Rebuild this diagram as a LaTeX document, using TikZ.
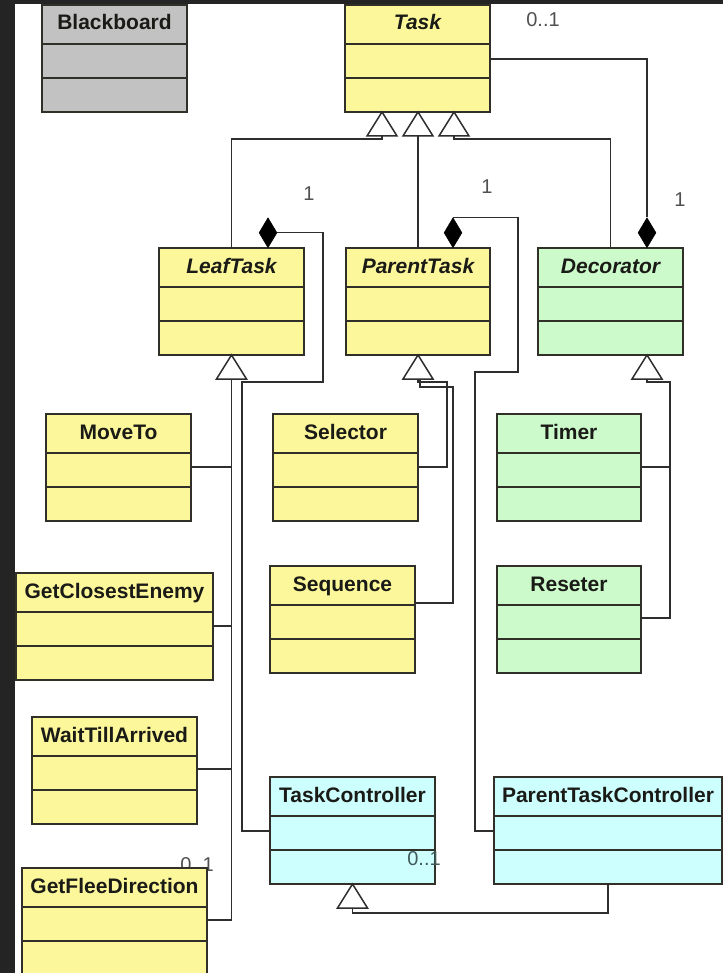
\documentclass[tikz,border=0pt]{standalone}
\usepackage{fontspec}
\setmainfont{Liberation Sans}
\usetikzlibrary{shapes.geometric,calc}

\definecolor{umlyellow}{RGB}{252,247,155}
\definecolor{umlgreen}{RGB}{204,250,202}
\definecolor{umlcyan}{RGB}{206,255,255}
\definecolor{umlgray}{RGB}{194,194,194}
\definecolor{boxline}{RGB}{48,48,40}
\definecolor{connline}{RGB}{46,46,46}
\definecolor{titlecol}{RGB}{26,26,22}
\definecolor{multcol}{RGB}{80,80,80}
\definecolor{framedark}{RGB}{36,36,36}

\newcommand\clsfont{\bfseries\fontsize{21}{24}\selectfont}
\newcommand\absclsfont{\bfseries\itshape\fontsize{21}{24}\selectfont}

\tikzset{
  classbox/.style={draw=boxline, line width=1.8pt, minimum height=107pt,
                   inner sep=0pt, outer sep=0pt},
  compline/.style={draw=boxline, line width=1.8pt},
  titletext/.style={text=titlecol, inner sep=0pt, text height=15pt, text depth=4pt},
  conn/.style={draw=connline, line width=1.5pt},
  gentri/.style={draw=connline, line width=1.5pt, fill=white, line join=miter},
  compdiamond/.style={diamond, fill=black, draw=black, line width=0.5pt,
                      inner sep=0pt, minimum width=18pt, minimum height=30pt},
  mult/.style={text=multcol, inner sep=0pt, font=\fontsize{20}{24}\selectfont}
}

% class box: name, top-left corner, width, fill, title font, title
\newcommand\umlclass[6]{%
  \node[classbox, fill=#4, minimum width=#3pt, anchor=north west] (#1) at (#2) {};
  \draw[compline] ([yshift=-39pt]#1.north west) -- ([yshift=-39pt]#1.north east);
  \draw[compline] ([yshift=-73pt]#1.north west) -- ([yshift=-73pt]#1.north east);
  \node[titletext, font=#5] (#1-title) at ([yshift=-19.5pt]#1.north) {#6};
}

% open generalization triangle hanging below a point; base centre is named
\newcommand\gentriangle[2]{%
  \draw[gentri] (#2) -- ++(-15,24) -- ++(30,0) -- cycle;
  \coordinate (#1) at ($(#2)+(0,24)$);
}

\begin{document}
\begin{tikzpicture}[x=1pt,y=-1pt]
\useasboundingbox (0,0) rectangle (723,973);
\clip (0,0) rectangle (723,973);

% page frame
\fill[white] (0,0) rectangle (723,973);
\fill[framedark] (0,0) rectangle (15,973);
\fill[framedark] (0,0) rectangle (723,4);

% multiplicity partly hidden behind GetFleeDirection
\node[mult] (mFlee) at (197,865) {0..1};

% classes
\umlclass{Blackboard}{42,5}{145}{umlgray}{\clsfont}{Blackboard}
\umlclass{Task}{345,5}{145}{umlyellow}{\absclsfont}{Task}
\umlclass{LeafTask}{159,248}{145}{umlyellow}{\absclsfont}{LeafTask}
\umlclass{ParentTask}{346,248}{144}{umlyellow}{\absclsfont}{ParentTask}
\umlclass{Decorator}{538,248}{145}{umlgreen}{\absclsfont}{Decorator}
\umlclass{MoveTo}{46,414}{145}{umlyellow}{\clsfont}{MoveTo}
\umlclass{Selector}{273,414}{145}{umlyellow}{\clsfont}{Selector}
\umlclass{Timer}{497,414}{144}{umlgreen}{\clsfont}{Timer}
\umlclass{GetClosestEnemy}{16,573}{197}{umlyellow}{\clsfont}{GetClosestEnemy}
\umlclass{Sequence}{270,566}{145}{umlyellow}{\clsfont}{Sequence}
\umlclass{Reseter}{497,566}{144}{umlgreen}{\clsfont}{Reseter}
\umlclass{WaitTillArrived}{32,717}{165}{umlyellow}{\clsfont}{WaitTillArrived}
\umlclass{TaskController}{270,777}{165}{umlcyan}{\clsfont}{TaskController}
\umlclass{ParentTaskController}{494,777}{228}{umlcyan}{\clsfont}{ParentTaskController}
\umlclass{GetFleeDirection}{22,868}{185}{umlyellow}{\clsfont}{GetFleeDirection}

% generalization triangles
\gentriangle{gT1}{[xshift=-35.5pt]Task.south}
\gentriangle{gT2}{[xshift=0.5pt]Task.south}
\gentriangle{gT3}{[xshift=36.5pt]Task.south}
\gentriangle{gLeaf}{LeafTask.south}
\gentriangle{gParent}{ParentTask.south}
\gentriangle{gDec}{[xshift=36.5pt]Decorator.south}
\gentriangle{gTC}{TaskController.south}

% composition diamonds
\node[compdiamond, anchor=south] (dLeaf) at ([xshift=36.5pt]LeafTask.north) {};
\node[compdiamond, anchor=south] (dParent) at ([xshift=35pt]ParentTask.north) {};
\node[compdiamond, anchor=south] (dDec) at ([xshift=36.5pt]Decorator.north) {};

% inheritance from Task
\draw[conn] (LeafTask.north) |- ([yshift=-3pt]gT1) -- (gT1);
\draw[conn] (ParentTask.north) -- (gT2);
\draw[conn] (Decorator.north) |- ([yshift=-3pt]gT3) -- (gT3);

% Task owned by Decorator
\draw[conn] ([yshift=-54pt]Task.north east) -| (dDec.north);

% controllers owned by the task classes
\draw[conn] ([yshift=-54pt]TaskController.north west) -| (242,382) -- (323,382) |- (dLeaf.east);
\draw[conn] ([yshift=-54pt]ParentTaskController.north west) -| (475,372) -- (518,372) |- (dParent.north);

% controller inheritance
\draw[conn] (ParentTaskController.south) |- ([yshift=-5pt]gTC) -- (gTC);

% leaf tasks
\draw[conn] ([yshift=-53pt]MoveTo.north east) -| (gLeaf);
\draw[conn] ([yshift=-53pt]GetClosestEnemy.north east) -| (gLeaf);
\draw[conn] ([yshift=-52pt]WaitTillArrived.north east) -| (gLeaf);
\draw[conn] ([yshift=-52pt]GetFleeDirection.north east) -| (gLeaf);

% parent tasks
\draw[conn] ([yshift=-53pt]Selector.north east) -| (447,382) -| (gParent);
\draw[conn] ([yshift=-37pt]Sequence.north east) -| (453,387) -| ([xshift=2pt]gParent);

% decorators
\draw[conn] ([yshift=-53pt]Timer.north east) -| (670,382) -| (gDec);
\draw[conn] ([yshift=-52pt]Reseter.north east) -| (670,382) -| (gDec);

% multiplicities
\node[mult] (mTask) at (543,20) {0..1};
\node[mult] (mLeaf) at (309,194) {1};
\node[mult] (mParent) at (487,187) {1};
\node[mult] (mDec) at (680,200) {1};
\node[mult, text=multcol!80!teal] (mTC) at (424,859) {0..1};
\end{tikzpicture}
\end{document}
